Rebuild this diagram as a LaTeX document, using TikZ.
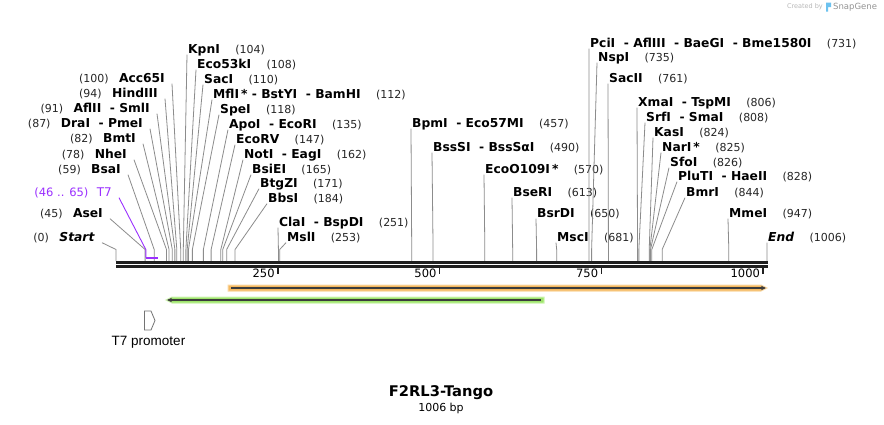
\documentclass[tikz,border=0pt]{standalone}
\usepackage{fontspec}
\setmainfont{DejaVu Sans}
\newfontfamily\lsans{Liberation Sans}
\usetikzlibrary{arrows.meta}
\definecolor{leadc}{HTML}{8C8C8C}
\definecolor{t7c}{HTML}{9B30FF}
\definecolor{orfill}{HTML}{F5B85E}
\definecolor{oredge}{HTML}{FAD9A6}
\definecolor{grfill}{HTML}{9EE46C}
\definecolor{gredge}{HTML}{CFF5B2}
\definecolor{darkln}{HTML}{3C3C3C}
\definecolor{sgblue}{HTML}{2FA8E8}
\tikzset{
  lab/.style={font=\fontsize{12.3}{14}\selectfont\bfseries, inner sep=1pt, text height=9pt, text depth=0pt},
  num/.style={font=\fontsize{11}{13}\selectfont, inner sep=1pt, text=black!85},
  lead/.style={draw=leadc, line width=0.8pt},
}
\newcommand\siteR[6]{%
  \node[lab,anchor=west] (#1) at (#2,#3) {#4};
  \node[num,anchor=base west] (#1n) at ([xshift=13pt]#1.base east) {#5};
  \coordinate (#1k) at ({116+0.6471*#6},249.5);
  \coordinate (#1b) at ({116+0.6471*#6},261);
  \draw[lead] (#1.south west) -- (#1k) -- (#1b);
}
\newcommand\siteL[6]{%
  \node[lab,anchor=east] (#1) at (#2,#3) {#4};
  \node[num,anchor=base east] (#1n) at ([xshift=-8pt]#1.base west) {#5};
  \coordinate (#1k) at ({116+0.6471*#6},249.5);
  \coordinate (#1b) at ({116+0.6471*#6},261);
  \draw[lead] ([xshift=6pt]#1.south east) -- (#1k) -- (#1b);
}
\newcommand\hy{\ \ - }
\begin{document}
\begin{tikzpicture}[x=1pt,y=-1pt]
\useasboundingbox[fill=white] (0,0) rectangle (884,424);

% watermark
\node[font=\fontsize{6.5}{7}\selectfont, text=black!28, anchor=east, inner sep=0] (cb) at (823,7) {Created by};
\fill[sgblue!70] (826,2.5) rectangle (831,7) (826,7) rectangle (828.2,11.5);
\node[font=\fontsize{8.5}{9}\selectfont, text=black!42, anchor=west, inner sep=0] (sg) at (833,7) {SnapGene};

% left cluster
\siteL{acc}{166}{78}{Acc65I}{(100)}{100}
\siteL{hind}{159}{93}{HindIII}{(94)}{94}
\siteL{afl}{151}{108}{AflII\hy SmlI}{(91)}{91}
\siteL{dra}{144}{123}{DraI\hy PmeI}{(87)}{87}
\siteL{bmt}{137}{138}{BmtI}{(82)}{82}
\siteL{nhe}{128}{154}{NheI}{(78)}{78}
\siteL{bsa}{122}{169}{BsaI}{(59)}{59}
\siteL{ase}{104}{213}{AseI}{(45)}{45}
\siteL{start}{96}{237}{\textit{Start}}{(0)}{0}

% T7 feature label
\node[font=\fontsize{12}{14}\selectfont, text=t7c, anchor=east, inner sep=1pt, text height=9pt, text depth=0pt] (t7) at (113,192) {T7};
\node[font=\fontsize{11.5}{13}\selectfont, text=t7c, anchor=base east, inner sep=1pt] (t7n) at ([xshift=-6pt]t7.base west) {(46 .. 65)};
\coordinate (t7k) at (145.8,249.5);
\coordinate (t7b) at (145.8,257.5);
\coordinate (t7e) at (158.1,257.5);
\draw[t7c, line width=0.9pt] ([xshift=6pt]t7.south east) -- (t7k) -- (t7b);
\draw[t7c, line width=2pt] (t7b) -- (t7e);

% upper cluster
\siteR{kpn}{187}{49}{KpnI}{(104)}{104}
\siteR{ecof}{196}{64}{Eco53kI}{(108)}{108}
\siteR{sac}{203}{79}{SacI}{(110)}{110}
\siteR{mfl}{212}{94}{MflI\,*\ - BstYI\hy BamHI}{(112)}{112}
\siteR{spe}{219}{109}{SpeI}{(118)}{118}
\siteR{apo}{228}{124}{ApoI\hy EcoRI}{(135)}{135}
\siteR{ecorv}{235}{139}{EcoRV}{(147)}{147}
\siteR{notI}{243}{154}{NotI\hy EagI}{(162)}{162}
\siteR{bsie}{251}{169}{BsiEI}{(165)}{165}
\siteR{btg}{259}{183}{BtgZI}{(171)}{171}
\siteR{bbs}{267}{198}{BbsI}{(184)}{184}
\siteR{cla}{278}{222}{ClaI\hy BspDI}{(251)}{251}
\siteR{msl}{286}{237}{MslI}{(253)}{253}

% middle
\siteR{bpm}{411}{123}{BpmI\hy Eco57MI}{(457)}{457}
\siteR{bsss}{432}{147}{BssSI\hy BssSαI}{(490)}{490}
\siteR{ecoo}{484}{169}{EcoO109I\,*}{(570)}{570}
\siteR{bser}{512}{192}{BseRI}{(613)}{613}
\siteR{bsrd}{536}{213}{BsrDI}{(650)}{650}
\siteR{msc}{556}{237}{MscI}{(681)}{681}

% right cluster
\siteR{pci}{589}{43}{PciI\hy AflIII\hy BaeGI\hy Bme1580I}{(731)}{731}
\siteR{nsp}{597}{57}{NspI}{(735)}{735}
\siteR{sacii}{608}{78}{SacII}{(761)}{761}
\siteR{xma}{637}{102}{XmaI\hy TspMI}{(806)}{806}
\siteR{srf}{645}{117}{SrfI\hy SmaI}{(808)}{808}
\siteR{kas}{653}{132}{KasI}{(824)}{824}
\siteR{nar}{661}{147}{NarI\,*}{(825)}{825}
\siteR{sfo}{669}{162}{SfoI}{(826)}{826}
\siteR{plu}{677}{176}{PluTI\hy HaeII}{(828)}{828}
\siteR{bmr}{685}{192}{BmrI}{(844)}{844}
\siteR{mme}{728}{213}{MmeI}{(947)}{947}
\siteR{endI}{767}{237}{\textit{End}}{(1006)}{1006}

% backbone
\coordinate (s0) at (116,262.5);
\coordinate (s1) at (767.5,262.5);
\coordinate (r0) at (116,266.3);
\coordinate (r1) at (767.5,266.3);
\draw[black!88, line width=2.8pt] (s0) -- (s1);
\draw[black!88, line width=2.4pt] (r0) -- (r1);

% ruler ticks
\foreach \v/\x in {250/277.8, 500/439.6, 750/601.3, 1000/763.1}{
  \coordinate (tk\v) at (\x,266);
  \draw[black!88, line width=1.6pt] (tk\v) -- ++(0,7.5);
  \node[font=\fontsize{11.5}{13}\selectfont, inner sep=1pt, anchor=base east, text=black] (tl\v) at ([xshift=-2pt,yshift=-11.5pt]tk\v) {\v};
}

% features
\fill[orfill, draw=oredge, line width=1pt] (228,285) -- (761,285) -- (767,288) -- (761,291) -- (228,291) -- cycle;
\draw[darkln, line width=1.2pt, -{Stealth[length=5pt,width=4.5pt]}] (231,288) -- (766,288);
\fill[grfill, draw=gredge, line width=1pt] (544,297) -- (172,297) -- (166,300) -- (172,303) -- (544,303) -- cycle;
\draw[darkln, line width=1.2pt, -{Stealth[length=5pt,width=4.5pt]}] (541,300) -- (167,300);

% T7 promoter
\draw[black!55, fill=white, line width=0.8pt] (144.5,311) -- (151,311) -- (155,320.5) -- (151,330) -- (144.5,330) -- cycle;
\node[font=\lsans\fontsize{13.5}{15}\selectfont, inner sep=0] (t7p) at (148.5,342) {T7 promoter};

% title
\node[font=\fontsize{14.7}{17}\selectfont\bfseries, inner sep=0] (title) at (441,393) {F2RL3-Tango};
\node[font=\fontsize{11}{13}\selectfont, inner sep=0] (bp) at (441,408) {1006 bp};
\end{tikzpicture}
\end{document}
